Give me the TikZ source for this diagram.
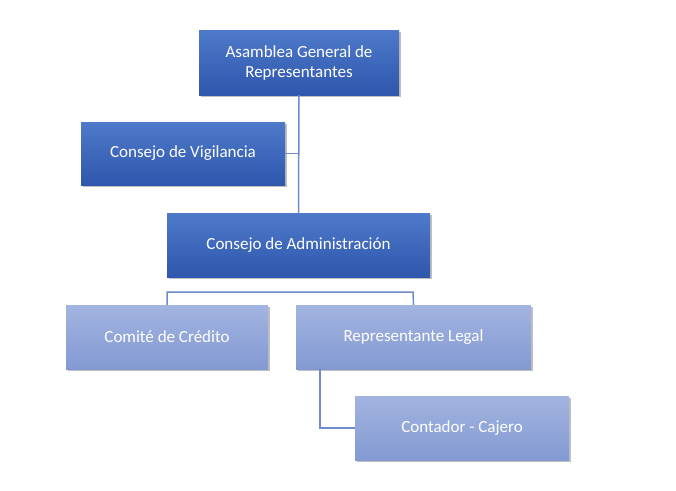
\documentclass[tikz,border=0pt]{standalone}
\usepackage{fontspec}
\setmainfont{Carlito}
\usetikzlibrary{shadows}
\definecolor{dkT}{HTML}{4F79C9}
\definecolor{dkB}{HTML}{2E57AD}
\definecolor{ltT}{HTML}{A2B4E0}
\definecolor{ltB}{HTML}{8399D2}
\definecolor{ln}{HTML}{6E8BCB}
\begin{document}
\begin{tikzpicture}[x=1pt,y=-1pt,
  box/.style={draw=none,inner sep=0,text=white,font=\fontsize{17}{20}\selectfont,align=center,
    drop shadow={shadow xshift=2pt,shadow yshift=-2pt,fill=black,opacity=0.25}},
  dk/.style={box,top color=dkT,bottom color=dkB},
  lt/.style={box,top color=ltT,bottom color=ltB},
  conn/.style={draw=ln,line width=1.5pt}]
\useasboundingbox (0,0) rectangle (676,490);
\node[dk,minimum width=200pt,minimum height=65pt] (a) at (299,62.5) {Asamblea General de\\Representantes};
\node[dk,minimum width=204pt,minimum height=63pt] (v) at (183,153.5) {Consejo de Vigilancia};
\node[dk,minimum width=263pt,minimum height=64pt] (ad) at (298.5,245) {Consejo de Administración};
\node[lt,minimum width=202pt,minimum height=64pt] (c) at (167,337) {Comité de Crédito};
\node[lt,minimum width=235pt,minimum height=64pt] (r) at (413.5,337) {Representante Legal};
\node[lt,minimum width=214pt,minimum height=64pt] (k) at (462,428) {Contador - Cajero};
\coordinate (j) at (299,153.5);
\coordinate (h1) at (167,292);
\coordinate (h2) at (413,292);
\coordinate (kc) at (320,428);
\begin{scope}[on background layer/.try]
\end{scope}
\draw[conn] (a.south) -- (ad.north);
\draw[conn] (v.east) -- (j);
\draw[conn] (c.north) -- (h1) -- (h2) -- (r.north);
\draw[conn] (r.south -| kc) -- (kc) -- (k.west);
\end{tikzpicture}
\end{document}
